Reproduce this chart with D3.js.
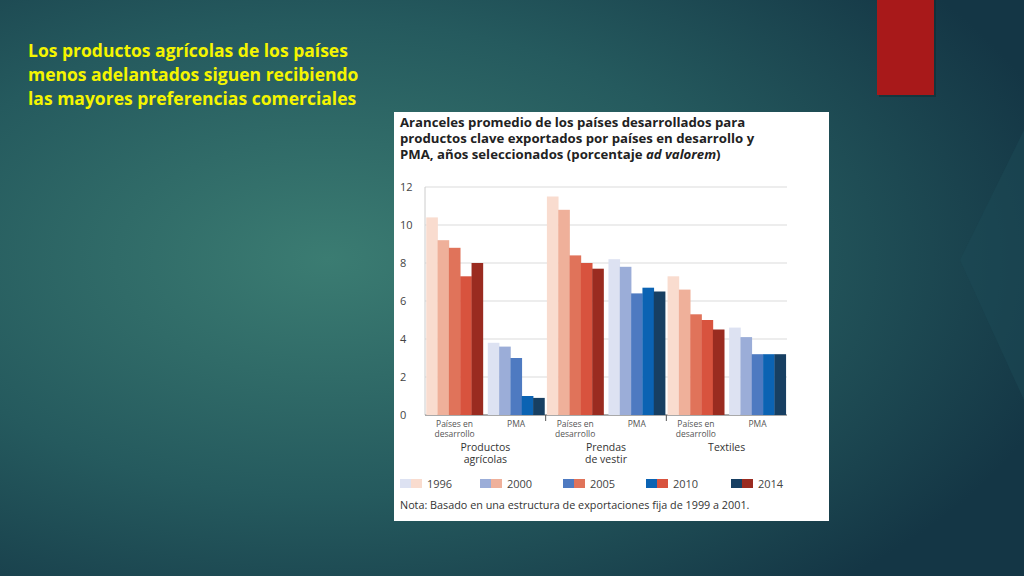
<!DOCTYPE html>
<html><head><meta charset="utf-8">
<script src="https://cdn.jsdelivr.net/npm/d3@7"></script>
<style>body{margin:0;overflow:hidden}svg{display:block}</style>
</head><body>
<svg id="c" width="1024" height="576"></svg>
<script>
const years = ["1996","2000","2005","2010","2014"];
const groups = ["Productos agrícolas","Prendas de vestir","Textiles"];
const groupLines = [["Productos","agrícolas"],["Prendas","de vestir"],["Textiles"]];
const subgroups = ["Países en desarrollo","PMA"];
const devValues = [[10.4,9.2,8.8,7.3,8.0],[11.5,10.8,8.4,8.0,7.7],[7.3,6.6,5.3,5.0,4.5]];
const pmaValues = [[3.8,3.6,3.0,1.0,0.9],[8.2,7.8,6.4,6.7,6.5],[4.6,4.1,3.2,3.2,3.2]];
const yTicks = [0,2,4,6,8,10,12];
const redColors = ["#f9dccf","#efb09a","#e0735a","#d8533e","#9a2b20"];
const blueColors = ["#dde2f2","#9badd8","#4e7ac1","#0b63b3","#173f62"];

const svg = d3.select("#c");
const defs = svg.append("defs");
const rg = defs.append("radialGradient").attr("id","bg").attr("cx","0.32").attr("cy","0.45").attr("r","0.75");
rg.append("stop").attr("offset","0").attr("stop-color","#3b7c72");
rg.append("stop").attr("offset","0.55").attr("stop-color","#255a5e");
rg.append("stop").attr("offset","1").attr("stop-color","#143645");
svg.append("rect").attr("width",1024).attr("height",576).attr("fill","url(#bg)");
svg.append("polygon").attr("points","1024,130 960,260 1024,400").attr("fill","#1c4a55").attr("opacity",0.5);
svg.append("rect").attr("x",879).attr("y",0).attr("width",57).attr("height",97).attr("fill","#0d2a30").attr("opacity",0.5);
svg.append("rect").attr("x",877).attr("y",0).attr("width",57).attr("height",95).attr("fill","#a8191a");

const tl = ["Los productos agrícolas de los países","menos adelantados siguen recibiendo","las mayores preferencias comerciales"];
svg.append("text").attr("font-family","Open Sans, sans-serif").attr("font-weight","bold").attr("font-size",17.5).attr("fill","#f5f500")
 .selectAll("tspan").data(tl).join("tspan").attr("x",28).attr("y",(d,i)=>57+i*24).text(d=>d);

svg.append("rect").attr("x",394).attr("y",112).attr("width",435).attr("height",409).attr("fill","#fff");
const ct = ["Aranceles promedio de los países desarrollados para","productos clave exportados por países en desarrollo y"];
const tg = svg.append("g").attr("font-family","Open Sans, sans-serif").attr("font-weight","bold").attr("font-size",13.2).attr("fill","#222");
ct.forEach((t,i)=>tg.append("text").attr("x",400).attr("y",127+i*16).text(t));
const t3 = tg.append("text").attr("x",400).attr("y",159);
t3.append("tspan").text("PMA, años seleccionados (porcentaje ");
t3.append("tspan").attr("font-style","italic").text("ad valorem");
t3.append("tspan").text(")");

const y = d3.scaleLinear().domain([0,12]).range([415,187]);
const x0 = d3.scaleBand().domain(groups).range([425,787]).paddingInner(0);
const x1 = d3.scaleBand().domain(subgroups).range([0,x0.bandwidth()]).paddingInner(0.08).paddingOuter(0.02);
const x2 = d3.scaleBand().domain(years).range([0,x1.bandwidth()]);

const g = svg.append("g").attr("font-family","Open Sans, sans-serif");
g.selectAll(".grid").data(yTicks).join("line").attr("x1",425).attr("x2",787).attr("y1",d=>y(d)).attr("y2",d=>y(d)).attr("stroke",d=>d===0?"#555":"#ccc").attr("stroke-width",d=>d===0?1:0.7);
g.append("line").attr("x1",425).attr("x2",425).attr("y1",187).attr("y2",415).attr("stroke","#ccc");
g.selectAll(".yl").data(yTicks).join("text").attr("x",400).attr("y",d=>y(d)+4).attr("font-size",11).attr("fill","#444").text(d=>d);

groups.forEach((gr,gi)=>{
  [devValues[gi],pmaValues[gi]].forEach((vals,si)=>{
    const cols = si===0?redColors:blueColors;
    g.selectAll(null).data(vals).join("rect")
     .attr("x",(d,i)=>x0(gr)+x1(subgroups[si])+x2(years[i]))
     .attr("width",x2.bandwidth()+0.3)
     .attr("y",d=>y(d)).attr("height",d=>y(0)-y(d)).attr("fill",(d,i)=>cols[i]);
    const cx = x0(gr)+x1(subgroups[si])+x1.bandwidth()/2;
    const lab = si===0?["Países en","desarrollo"]:["PMA"];
    g.append("text").attr("text-anchor","middle").attr("font-size",8.5).attr("fill","#555")
     .selectAll("tspan").data(lab).join("tspan").attr("x",cx).attr("y",(d,i)=>427+i*10).text(d=>d);
  });
  const gx = x0(gr)+x0.bandwidth()/2;
  g.append("text").attr("text-anchor","middle").attr("font-size",10.5).attr("fill","#333")
   .selectAll("tspan").data(groupLines[gi]).join("tspan").attr("x",gx).attr("y",(d,i)=>451+i*12).text(d=>d);
  if(gi>0) g.append("line").attr("x1",x0(gr)).attr("x2",x0(gr)).attr("y1",415).attr("y2",421).attr("stroke","#555");
});

const lx = [400,480,563,646,731];
years.forEach((yr,i)=>{
  g.append("rect").attr("x",lx[i]).attr("y",479).attr("width",11).attr("height",9).attr("fill",blueColors[i]);
  g.append("rect").attr("x",lx[i]+11).attr("y",479).attr("width",11).attr("height",9).attr("fill",redColors[i]);
  g.append("text").attr("x",lx[i]+27).attr("y",488).attr("font-size",11).attr("fill","#444").text(yr);
});
g.append("text").attr("x",400).attr("y",509).attr("font-size",10.8).attr("fill","#333").text("Nota: Basado en una estructura de exportaciones fija de 1999 a 2001.");
</script>
</body></html>
